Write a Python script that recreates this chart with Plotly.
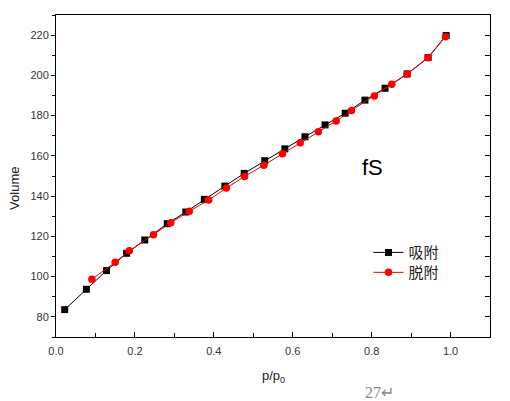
import plotly.graph_objects as go

# Adsorption (吸附) branch
ads_p = [0.022, 0.077, 0.128, 0.179, 0.225, 0.282, 0.329, 0.376, 0.428, 0.477,
         0.529, 0.580, 0.631, 0.682, 0.733, 0.783, 0.834, 0.890, 0.943, 0.989]
ads_v = [83.6, 93.7, 103.0, 111.6, 118.2, 126.3, 132.1, 138.4, 145.0, 151.3,
         157.6, 163.5, 169.5, 175.4, 181.2, 187.7, 193.6, 200.7, 208.9, 219.8]

# Desorption (脱附) branch
des_p = [0.091, 0.150, 0.186, 0.247, 0.291, 0.338, 0.387, 0.432, 0.478, 0.527,
         0.574, 0.619, 0.665, 0.710, 0.749, 0.807, 0.851, 0.890, 0.943, 0.987]
des_v = [98.7, 107.1, 112.8, 120.8, 126.8, 132.5, 138.1, 144.0, 149.8, 155.4,
         161.0, 166.5, 172.0, 177.3, 182.6, 189.8, 195.6, 200.7, 208.7, 219.2]

x_ticks = [0.0, 0.2, 0.4, 0.6, 0.8, 1.0]
y_ticks = [80, 100, 120, 140, 160, 180, 200, 220]

font = "Liberation Sans, Arial, sans-serif"
cjk = "Noto Sans CJK SC, sans-serif"

fig = go.Figure()
fig.add_trace(go.Scatter(
    x=ads_p, y=ads_v, name="吸附", mode="lines+markers", legend="legend",
    line=dict(color="black", width=1),
    marker=dict(symbol="square", size=7, color="black"),
))
fig.add_trace(go.Scatter(
    x=des_p, y=des_v, name="脱附", mode="lines+markers", yaxis="y2",
    legend="legend2",
    line=dict(color="#e00000", width=1),
    marker=dict(symbol="circle", size=7.5, color="#ff0000"),
))

leg = dict(xanchor="left", yanchor="middle", bgcolor="rgba(0,0,0,0)",
           borderwidth=0, itemwidth=30,
           font=dict(family=cjk, size=15, color="#222"))

# page body has an 8px margin, so the figure is a bit smaller than the window
fig.update_layout(
    width=502, height=393,
    margin=dict(l=48, r=20, t=7, b=64),
    paper_bgcolor="white", plot_bgcolor="white",
    font=dict(family=font, color="#222"),
    showlegend=True,
    legend=dict(leg, x=0.72, y=0.262),
    legend2=dict(leg, x=0.72, y=0.200),
    xaxis=dict(
        range=[0, 1.1], tickvals=x_ticks, ticktext=[f"{v:.1f}" for v in x_ticks],
        showline=True, linecolor="black", linewidth=1, mirror=True,
        ticks="inside", ticklen=5, tickcolor="black",
        minor=dict(dtick=0.1, ticks="inside", ticklen=4, tickcolor="black"),
        showgrid=False, zeroline=False, ticklabelstandoff=4,
        tickfont=dict(size=11, color="#333"),
    ),
    yaxis=dict(
        range=[70, 230], tickvals=y_ticks,
        showline=True, linecolor="black", linewidth=1, mirror=True,
        ticks="outside", ticklen=4, tickcolor="black",
        minor=dict(dtick=10, ticks="outside", ticklen=3, tickcolor="black"),
        showgrid=False, zeroline=False,
        tickfont=dict(size=11, color="#333"),
    ),
    yaxis2=dict(
        range=[70, 230], overlaying="y", side="right", anchor="x",
        tickvals=y_ticks, showticklabels=False,
        ticks="inside", ticklen=5, tickcolor="black",
        minor=dict(dtick=10, ticks="inside", ticklen=5, tickcolor="black"),
        showline=False, showgrid=False, zeroline=False,
    ),
    annotations=[
        dict(text="fS", x=0.801, y=154.4, xref="x", yref="y", showarrow=False,
             font=dict(family=font, size=22, color="black")),
        dict(text="Volume", x=-0.0945, y=0.463, xref="paper", yref="paper",
             xanchor="center", yanchor="middle", textangle=-90, showarrow=False,
             font=dict(family=font, size=13, color="#222")),
        dict(text="p/p<sub>0</sub>", x=0.5, y=-0.155, xref="paper", yref="paper",
             xanchor="center", showarrow=False,
             font=dict(family=font, size=13, color="#222")),
        dict(text="27↵", x=0.7465, y=-0.206, xref="paper", yref="paper",
             xanchor="center", showarrow=False,
             font=dict(family="Liberation Serif, serif", size=16, color="#888")),
    ],
)

fig.write_html("out.html")
